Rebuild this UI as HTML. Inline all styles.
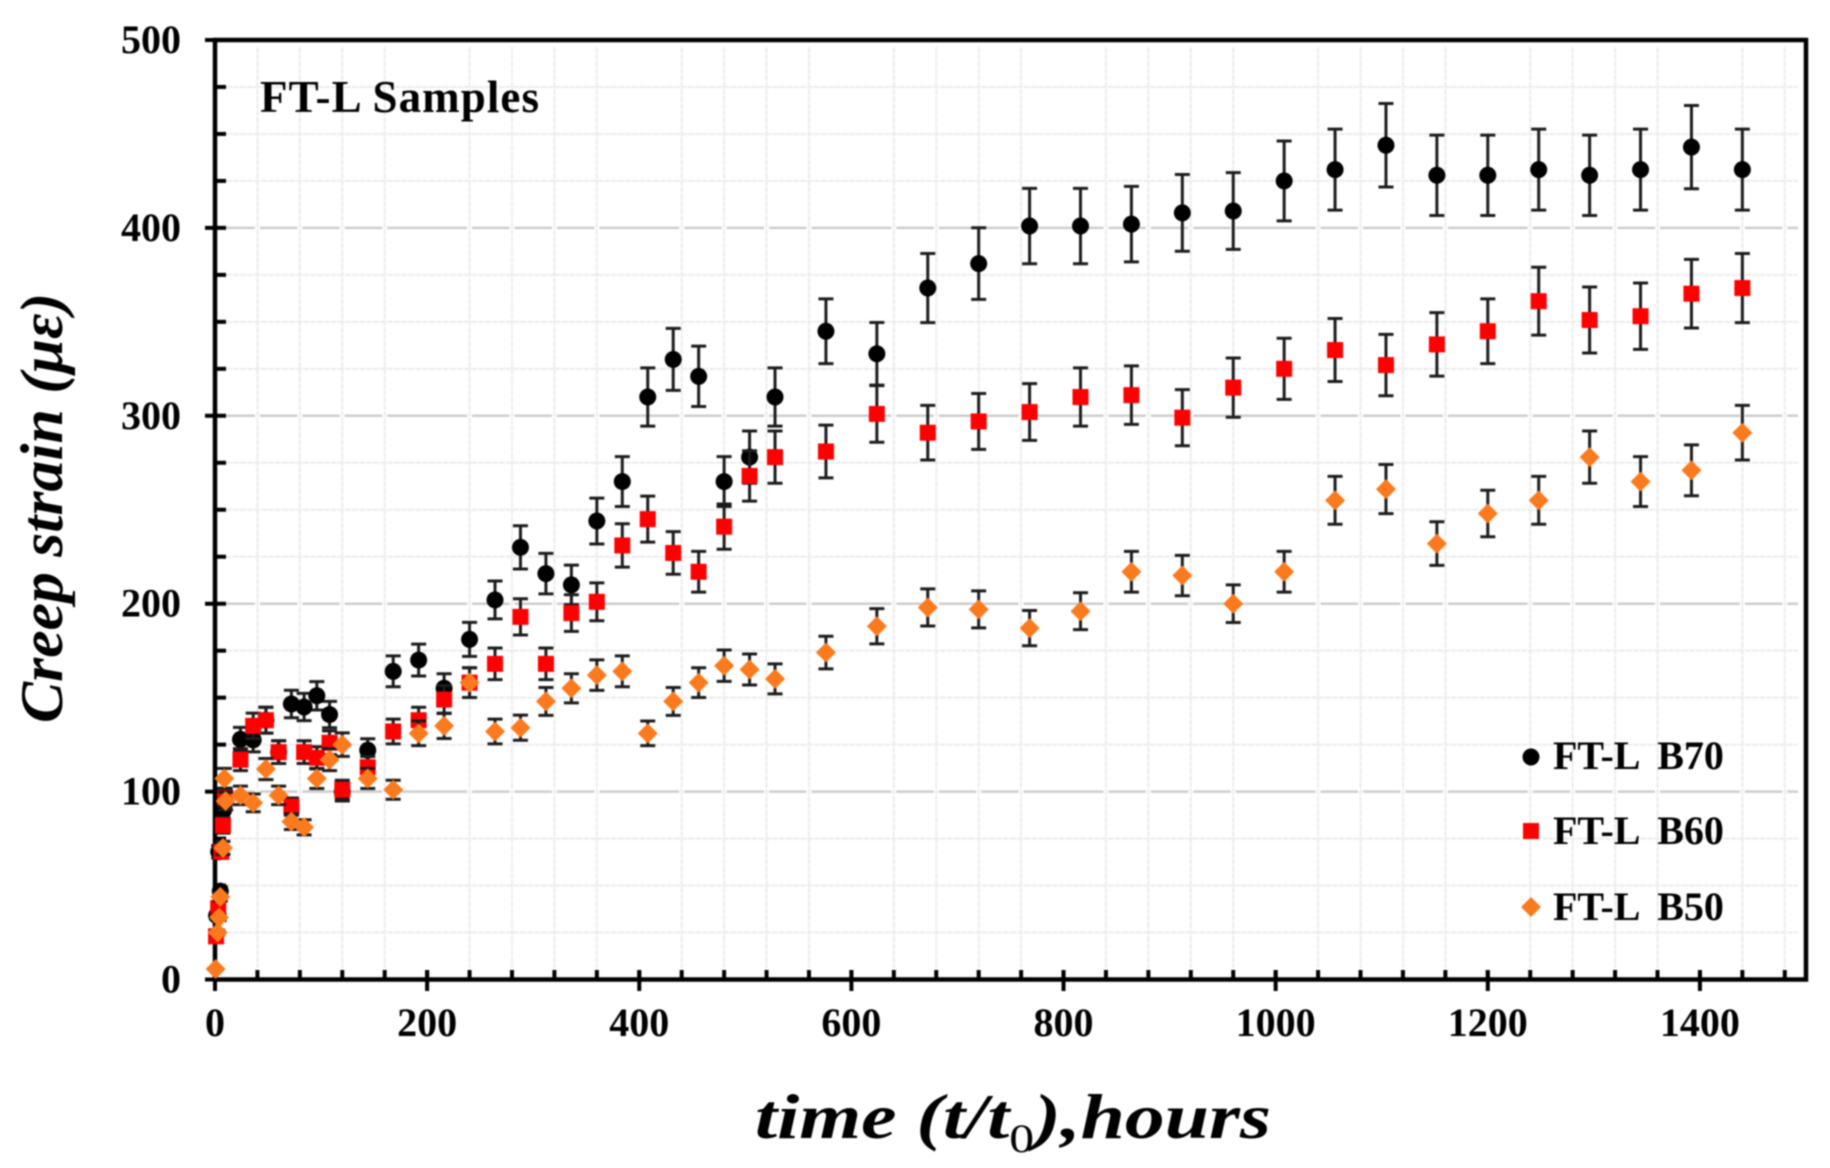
<!DOCTYPE html>
<html lang="en">
<head>
<meta charset="utf-8">
<title>Creep strain of FT-L samples</title>
<style>
html,body{margin:0;padding:0;background:#fff;width:1830px;height:1168px;overflow:hidden}
svg{display:block;filter:blur(0.7px)}
text{font-family:"Liberation Serif",serif;fill:#000}
.tick{font-size:40px;font-weight:bold}
.legend-text{word-spacing:9px}
.title{font-weight:bold;font-style:italic}
</style>
</head>
<body>
<svg id="chart" xmlns="http://www.w3.org/2000/svg" width="1830" height="1168" viewBox="0 0 1830 1168">
  <rect x="0" y="0" width="1830" height="1168" fill="#fff"/>
  <g id="grid"></g>
  <g id="axes"></g>
  <g id="marks"></g>
  <text x="260" y="112" font-size="45" font-weight="bold" textLength="279">FT-L Samples</text>
  <text class="title" transform="translate(62,723) rotate(-90)" x="0" y="0" font-size="60" textLength="430" lengthAdjust="spacingAndGlyphs">Creep strain (με)</text>
  <text class="title" x="755" y="1138" font-size="64" textLength="516" lengthAdjust="spacingAndGlyphs">time (t/t<tspan dy="14" font-size="40" font-style="normal" font-weight="normal">0</tspan><tspan dy="-14">),hours</tspan></text>
  <g>
    <g>
      <circle cx="1531" cy="757" r="8.5" fill="#000"/>
      <text class="tick legend-text" x="1553" y="769">FT-L B70</text>
    </g>
    <g>
      <rect x="1523" y="823" width="16" height="16" fill="#ff0000"/>
      <text class="tick legend-text" x="1553" y="844">FT-L B60</text>
    </g>
    <g>
      <polygon points="1531,897 1541,907 1531,917 1521,907" fill="#fb7a1e"/>
      <text class="tick legend-text" x="1553" y="920">FT-L B50</text>
    </g>
  </g>
</svg>
<script>
// ---- data ----
var commonHours = [24,36,48,60,72,84,96,108,120,144,168,192,216,240,264,288,312,336,360,384,408,432,456,480,504,528,576,624,672,720,768,816,864,912,960,1008,1056,1104,1152,1200,1248,1296,1344,1392,1440];
var earlyHoursB70 = [1.5,5,3.5,8];
var earlyHoursB60 = [1,3,6,7.5,9.5];
var earlyHoursB50 = [0.6,2.5,3.8,5,7.5,10,8.8];
var earlyValuesB70 = [34,47,68,90];
var earlyValuesB60 = [23,38,68,82,97];
var earlyValuesB50 = [5.6,25,33,44,70,95,107];
var valuesB70 = [127.8,127.5,138,121,146.6,145,151,141,100,122,164,170,155,181,202,230,216,210,244,265,310,330,321,265,278,310,345,333,368,381,401,401,402,408,409,425,431,444,428,428,431,428,431,443,431];
var valuesB60 = [117,135,138,121,92,121,118,126,101,113,132,138,149,158,168,193,168,195,201,231,245,227,217,241,268,278,281,301,291,297,302,310,311,299,315,325,335,327,338,345,361,351,353,365,368];
var valuesB50 = [98,94,112,98,84,81,107,117,125,107,101,131,135,158,132,134,148,155,162,164,131,148,158,167,165,160,174,188,198,197,187,196,217,215,200,217,255,261,232,248,255,278,265,271,291];
var errorFraction = 0.05;
var xTickLabels = [0,200,400,600,800,1000,1200,1400];
var yTickLabels = [0,100,200,300,400,500];
var xMinorStep = 40;
var yMinorStep = 25;
var xMax = 1500;
var yMax = 500;

// ---- axis functions ----
var plotLeft = 215, plotRight = 1806, plotTop = 40, plotBottom = 979.5;
function xScale(v){ return plotLeft + v * (plotRight - plotLeft) / xMax; }
function yScale(v){ return plotBottom - v * (plotBottom - plotTop) / yMax; }

var NS = 'http://www.w3.org/2000/svg';
var gridG = document.getElementById('grid');
var axesG = document.getElementById('axes');
var marksG = document.getElementById('marks');

function make(tag, parent, props){
  var n = document.createElementNS(NS, tag);
  for (var k in props) n.setAttribute(k, props[k]);
  parent.appendChild(n);
  return n;
}

// ---- gridlines ----
var v, ln;
for (v = 0; v <= yMax; v += yMinorStep) {
  if (v === 0 || v === yMax) continue;
  if (v % 100 === 0) {
    ln = make('line', gridG, {x1:226, x2:1798, y1:yScale(v), y2:yScale(v), stroke:'#cdcdcd', 'stroke-width':2.5});
    
    
  }
}
for (v = xMinorStep; v < xMax; v += xMinorStep) {
  if (v % 200 === 0) continue;
  ln = make('line', gridG, {x1:xScale(v), x2:xScale(v), y1:47, y2:968, stroke:'#fff', 'stroke-width':5});
  
  
}
for (v = yMinorStep; v < yMax; v += yMinorStep) {
  if (v % 100 === 0) continue;
  ln = make('line', gridG, {x1:226, x2:1798, y1:yScale(v), y2:yScale(v), stroke:'#ececec', 'stroke-width':2, 'stroke-dasharray':'6 1'});
  
  
}
for (v = xMinorStep; v < xMax; v += xMinorStep) {
  if (v % 200 === 0) continue;
  ln = make('line', gridG, {x1:xScale(v), x2:xScale(v), y1:47, y2:968, stroke:'#ececec', 'stroke-width':2, 'stroke-dasharray':'6 1'});
  
  
}

// ---- frame ----
var frame = make('rect', axesG, {x:plotLeft, y:plotTop, width:plotRight-plotLeft, height:plotBottom-plotTop, fill:'none', stroke:'#000', 'stroke-width':4.5});



// ---- ticks and tick labels ----
var t;
for (v = 0; v <= yMax; v += yMinorStep) {
  var isMajorY = v % 100 === 0;
  t = make('line', axesG, {x1:isMajorY ? 205 : plotLeft, x2:226, y1:yScale(v), y2:yScale(v), stroke:'#000', 'stroke-width':4});
  
  
}
for (v = 0; v < xMax; v += xMinorStep) {
  t = make('line', axesG, {x1:xScale(v), x2:xScale(v), y1:970, y2:plotBottom, stroke:'#000', 'stroke-width':4});
  
  
}
xTickLabels.forEach(function(label){
  var mt = make('line', axesG, {x1:xScale(label), x2:xScale(label), y1:970, y2:991, stroke:'#000', 'stroke-width':4});
  
  
  var tx = make('text', axesG, {x:xScale(label), y:1036, 'text-anchor':'middle', 'class':'tick'});
  tx.textContent = label;
  
  
});
yTickLabels.forEach(function(label){
  var tx = make('text', axesG, {x:181, y:yScale(label) + 13, 'text-anchor':'end', 'class':'tick'});
  tx.textContent = label;
  
  
});

// ---- series ----
function drawErrorBars(group, hours, values){
  hours.forEach(function(h, i){
    var cx = xScale(h);
    var hi = yScale(values[i] * (1 + errorFraction));
    var lo = yScale(values[i] * (1 - errorFraction));
    var eb = make('path', group, {d:'M' + (cx-7.5) + ' ' + hi + 'H' + (cx+7.5) + 'M' + cx + ' ' + hi + 'V' + lo + 'M' + (cx-7.5) + ' ' + lo + 'H' + (cx+7.5), fill:'none', stroke:'#1c1c1c', 'stroke-width':3});
    
    
  });
}

var hoursB70 = earlyHoursB70.concat(commonHours);
var hoursB60 = earlyHoursB60.concat(commonHours);
var hoursB50 = earlyHoursB50.concat(commonHours);
var allB70 = earlyValuesB70.concat(valuesB70);
var allB60 = earlyValuesB60.concat(valuesB60);
var allB50 = earlyValuesB50.concat(valuesB50);

var g70 = make('g', marksG, {});


drawErrorBars(g70, hoursB70, allB70);
hoursB70.forEach(function(h, i){
  var c = make('circle', g70, {cx:xScale(h), cy:yScale(allB70[i]), r:8.5, fill:'#000'});
  
  
});

var g60 = make('g', marksG, {});


drawErrorBars(g60, hoursB60, allB60);
hoursB60.forEach(function(h, i){
  var s = make('rect', g60, {x:xScale(h)-8, y:yScale(allB60[i])-8, width:16, height:16, fill:'#ff0000'});
  
  
});

var g50 = make('g', marksG, {});


drawErrorBars(g50, hoursB50, allB50);
hoursB50.forEach(function(h, i){
  var cx = xScale(h), cy = yScale(allB50[i]), d = 10;
  var p = make('polygon', g50, {points:cx + ',' + (cy-d) + ' ' + (cx+d) + ',' + cy + ' ' + cx + ',' + (cy+d) + ' ' + (cx-d) + ',' + cy, fill:'#fb7a1e'});
  
  
});
</script>
</body>
</html>
